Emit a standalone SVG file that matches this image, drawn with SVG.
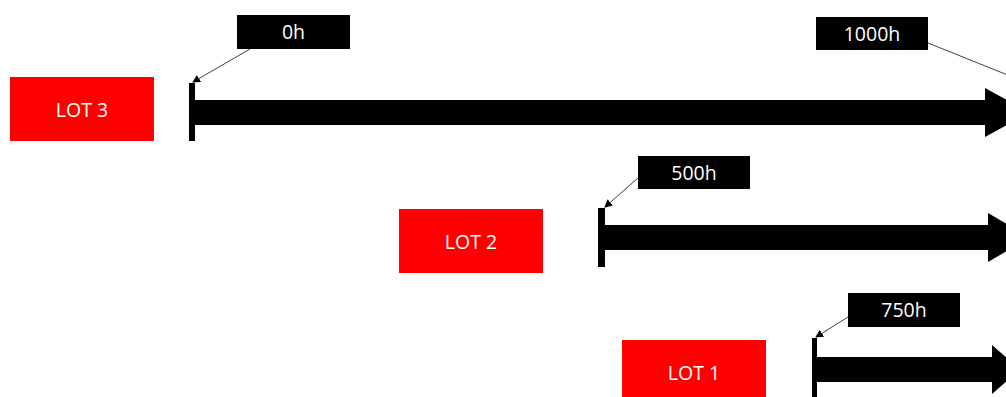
<svg xmlns="http://www.w3.org/2000/svg" width="1006" height="397" viewBox="0 0 1006 397">
<style>
.lot{fill:#ff0000}
.lbl{fill:#000}
.t{font-family:"Open Sans","Liberation Sans",sans-serif;font-size:19.5px;fill:#fff;text-anchor:middle;dominant-baseline:central}
.tick{fill:#000}
.arr{fill:#000}
.lead{stroke:#404040;stroke-width:1;fill:none;marker-end:url(#ah)}
</style>
<defs>
<marker id="ah" markerWidth="8" markerHeight="8" refX="7" refY="4" orient="auto" markerUnits="userSpaceOnUse">
<path d="M0,0 L8,4 L0,8 z" fill="#000"/>
</marker>
</defs>
<g id="lot3"><rect class="lot" x="10" y="77" width="144" height="64"/><text class="t" x="82" y="109">LOT 3</text></g>
<g id="lot2"><rect class="lot" x="399" y="209" width="144" height="64"/><text class="t" x="471" y="241">LOT 2</text></g>
<g id="lot1"><rect class="lot" x="622" y="340" width="144" height="64"/><text class="t" x="694" y="372">LOT 1</text></g>
<g id="timeline3">
<rect class="tick" x="189" y="83" width="6" height="58"/>
<path class="arr" d="M192,100 L985,100 L985,88 L1030,112.5 L985,137 L985,125 L192,125 z"/>
</g>
<g id="timeline2">
<rect class="tick" x="598" y="208" width="7" height="59"/>
<path class="arr" d="M601,225 L988,225 L988,213 L1030,237.5 L988,262 L988,250 L601,250 z"/>
</g>
<g id="timeline1">
<rect class="tick" x="812" y="338" width="5" height="62"/>
<path class="arr" d="M814,357 L992,357 L992,345 L1020,369.5 L992,394 L992,382 L814,382 z"/>
</g>
<g id="label0"><rect class="lbl" x="237" y="15" width="113" height="34"/><text class="t" x="293.5" y="31.5">0h</text></g>
<g id="label1000"><rect class="lbl" x="816" y="17" width="112" height="33"/><text class="t" x="872" y="33">1000h</text></g>
<g id="label500"><rect class="lbl" x="638" y="156" width="112" height="33"/><text class="t" x="694" y="172">500h</text></g>
<g id="label750"><rect class="lbl" x="848" y="293" width="112" height="34"/><text class="t" x="904" y="309.5">750h</text></g>
<g id="connectors">
<line class="lead" x1="250" y1="49" x2="193" y2="82"/>
<line class="lead" x1="928" y1="43" x2="1025" y2="82"/>
<line class="lead" x1="638" y1="178" x2="605" y2="207"/>
<line class="lead" x1="848" y1="317" x2="816" y2="337"/>
</g>
</svg>
